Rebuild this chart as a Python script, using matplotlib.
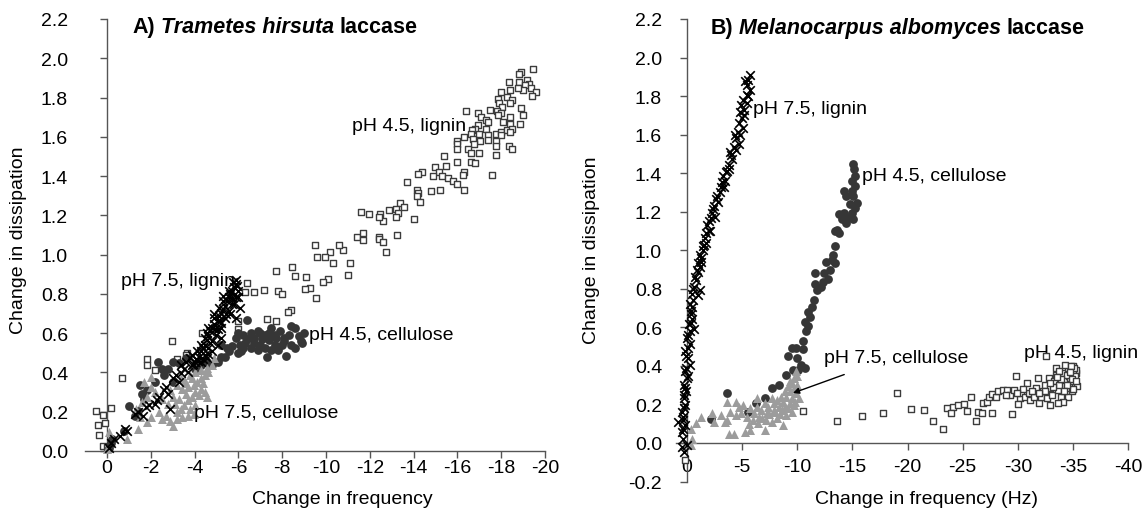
import numpy as np
import matplotlib
matplotlib.use("Agg")
import matplotlib.pyplot as plt

plt.rcParams['font.family'] = ['Liberation Sans', 'DejaVu Sans']

# ---- panel A: Trametes hirsuta laccase (frequency, dissipation) ----
a_lig45 = [
    (-19.44, 1.947), (-18.9, 1.93), (-18.8, 1.92), (-18.35, 1.88), (-18.8, 1.88), (-19.2, 1.89),
    (-19.27, 1.87), (-19.1, 1.865), (-19.36, 1.85), (-19.0, 1.84), (-19.6, 1.83), (-19.4, 1.81),
    (-18.77, 1.85), (-18.4, 1.84), (-18.0, 1.83), (-18.25, 1.805), (-17.85, 1.795), (-18.5, 1.79),
    (-17.9, 1.77), (-18.4, 1.77), (-18.05, 1.75), (-17.5, 1.735), (-18.9, 1.745), (-17.8, 1.73),
    (-18.0, 1.72), (-16.4, 1.73), (-16.95, 1.72), (-17.1, 1.70), (-17.3, 1.685), (-17.85, 1.71),
    (-18.4, 1.70), (-19.0, 1.71), (-18.85, 1.665), (-18.4, 1.665), (-18.1, 1.675), (-17.4, 1.675),
    (-16.95, 1.66), (-16.8, 1.64), (-16.65, 1.635), (-16.6, 1.615), (-17.0, 1.615), (-17.3, 1.64),
    (-17.4, 1.61), (-17.75, 1.615), (-18.0, 1.625), (-18.25, 1.635), (-18.5, 1.64), (-18.4, 1.625),
    (-18.0, 1.61), (-17.75, 1.58), (-17.4, 1.585), (-17.05, 1.58), (-16.7, 1.59), (-16.3, 1.60),
    (-16.0, 1.58), (-16.0, 1.565), (-16.75, 1.565), (-17.75, 1.555), (-18.35, 1.555), (-18.5, 1.54),
    (-16.0, 1.54), (-16.5, 1.54), (-17.0, 1.52), (-16.6, 1.52), (-17.75, 1.505), (-15.4, 1.50),
    (-16.0, 1.47), (-16.6, 1.47), (-16.8, 1.465), (-17.6, 1.405), (-15.5, 1.45), (-15.0, 1.445),
    (-15.15, 1.42), (-14.9, 1.40), (-15.3, 1.40), (-15.55, 1.39), (-15.8, 1.375), (-16.0, 1.36),
    (-16.3, 1.42), (-16.25, 1.405), (-16.3, 1.33), (-15.2, 1.33), (-14.8, 1.325), (-14.4, 1.42),
    (-14.2, 1.41), (-13.7, 1.37), (-14.15, 1.33), (-14.2, 1.315), (-14.15, 1.30), (-14.3, 1.27),
    (-13.4, 1.265), (-13.55, 1.245), (-13.2, 1.23), (-13.3, 1.21), (-12.9, 1.225), (-13.2, 1.19),
    (-12.45, 1.205), (-12.6, 1.17), (-14.0, 1.18), (-11.6, 1.215), (-11.95, 1.205), (-12.4, 1.19),
    (-11.4, 1.09), (-11.7, 1.11), (-11.7, 1.075), (-12.4, 1.09), (-12.4, 1.08), (-12.6, 1.065),
    (-12.75, 1.015), (-13.25, 1.10), (-10.8, 1.025), (-10.6, 1.05), (-10.2, 1.015), (-9.95, 0.99),
    (-9.6, 0.99), (-9.5, 1.05), (-10.3, 0.955), (-11.1, 0.955), (-11.0, 0.895), (-10.1, 0.875),
    (-9.85, 0.86), (-9.55, 0.78), (-9.25, 0.83), (-9.05, 0.825), (-9.1, 0.885), (-8.6, 0.89),
    (-8.43, 0.935), (-7.74, 0.915), (-7.83, 0.815), (-8.0, 0.80), (-7.15, 0.82), (-6.73, 0.81),
    (-6.4, 0.855), (-6.3, 0.81), (-8.42, 0.72), (-8.25, 0.71), (-7.3, 0.67), (-7.74, 0.66),
    (-6.0, 0.66), (-6.0, 0.62), (-4.35, 0.60), (-3.67, 0.50), (-2.95, 0.56), (-1.85, 0.47),
    (-1.85, 0.44), (-2.2, 0.41), (-0.67, 0.37), (-0.2, 0.22), (0.5, 0.205), (0.2, 0.185),
    (0.42, 0.13), (0.08, 0.145), (0.37, 0.08), (0.17, 0.025), (0.0, 0.02), (-3.6, 0.49), (-3.2, 0.47),
]
a_lig75 = [
    (-0.08, 0.017), (-0.17, 0.043), (-0.34, 0.06), (-0.59, 0.077), (-0.93, 0.103), (-0.84, 0.11),
    (-1.26, 0.19), (-1.43, 0.198), (-1.65, 0.18), (-1.77, 0.223), (-1.94, 0.232), (-2.19, 0.24),
    (-2.36, 0.275), (-2.27, 0.258), (-2.6, 0.31), (-2.78, 0.292), (-2.86, 0.215), (-2.69, 0.327),
    (-3.03, 0.37), (-3.16, 0.387), (-3.37, 0.395), (-3.54, 0.42), (-3.28, 0.352), (-3.7, 0.404),
    (-3.87, 0.438), (-3.79, 0.473), (-4.04, 0.455), (-4.21, 0.48), (-4.29, 0.507), (-4.38, 0.524),
    (-4.46, 0.541), (-4.55, 0.567), (-4.63, 0.584), (-4.71, 0.61), (-4.8, 0.627), (-4.88, 0.645),
    (-5.05, 0.662), (-5.13, 0.687), (-5.22, 0.705), (-5.3, 0.722), (-5.39, 0.739), (-5.47, 0.765),
    (-5.56, 0.782), (-5.64, 0.80), (-5.72, 0.816), (-5.81, 0.834), (-5.89, 0.851), (-5.89, 0.871),
    (-4.29, 0.455), (-4.46, 0.49), (-4.63, 0.524), (-4.8, 0.558), (-4.97, 0.593), (-5.05, 0.619),
    (-5.22, 0.653), (-5.39, 0.679), (-5.56, 0.713), (-5.72, 0.748), (-5.89, 0.782), (-5.98, 0.816),
    (-4.12, 0.507), (-4.29, 0.541), (-4.46, 0.576), (-4.63, 0.627), (-4.88, 0.679), (-5.13, 0.73),
    (-5.3, 0.765), (-5.56, 0.816), (-6.06, 0.73), (-5.89, 0.679), (-5.22, 0.576), (-5.05, 0.541),
    (-4.8, 0.507), (-4.55, 0.473), (-3.87, 0.49), (-3.62, 0.455), (-3.37, 0.438), (-5.22, 0.627),
    (-5.64, 0.696), (-5.81, 0.748), (-5.98, 0.782), (-4.4, 0.47), (-4.7, 0.55), (-4.95, 0.62),
    (-5.15, 0.66), (-5.45, 0.70), (-5.7, 0.78), (-5.95, 0.84), (-4.15, 0.46), (-4.55, 0.60),
    (-4.9, 0.70), (-5.3, 0.79), (-5.75, 0.86), (-4.05, 0.47), (-3.95, 0.445), (-4.6, 0.495),
]
a_cel45 = [
    (-6.4, 0.665), (-7.5, 0.627), (-8.42, 0.636), (-8.6, 0.627), (-9.0, 0.60), (-8.84, 0.56),
    (-8.42, 0.54), (-8.08, 0.575), (-7.66, 0.54), (-7.32, 0.48), (-8.16, 0.486), (-7.24, 0.59),
    (-6.9, 0.61), (-6.73, 0.575), (-6.99, 0.54), (-6.57, 0.525), (-6.31, 0.55), (-6.14, 0.507),
    (-5.9, 0.575), (-5.72, 0.533), (-5.56, 0.507), (-5.22, 0.48), (-5.05, 0.455), (-4.8, 0.44),
    (-7.9, 0.61), (-7.66, 0.593), (-7.4, 0.567), (-7.83, 0.516), (-8.6, 0.524), (-8.75, 0.584),
    (-6.9, 0.516), (-7.24, 0.524), (-6.57, 0.60), (-6.23, 0.593), (-6.06, 0.541), (-8.08, 0.558),
    (-7.5, 0.516), (-6.73, 0.55), (-5.98, 0.50), (-5.39, 0.48), (-5.47, 0.524), (-5.22, 0.541),
    (-4.55, 0.455), (-4.3, 0.44), (-4.04, 0.42), (-3.62, 0.473), (-3.28, 0.447), (-3.03, 0.455),
    (-2.78, 0.42), (-2.53, 0.42), (-2.32, 0.455), (-2.6, 0.387), (-3.03, 0.352), (-2.19, 0.352),
    (-1.85, 0.31), (-1.6, 0.29), (-1.68, 0.266), (-1.43, 0.206), (-1.01, 0.229), (-1.26, 0.18),
    (-0.76, 0.103), (-0.17, 0.043), (-0.08, 0.017), (-0.25, 0.06), (-1.52, 0.335),
    (-7.1, 0.57), (-7.7, 0.575), (-8.3, 0.59), (-8.0, 0.54), (-7.0, 0.60), (-6.4, 0.57),
    (-6.0, 0.60), (-8.9, 0.55), (-7.4, 0.60), (-6.2, 0.525),
]
a_cel75 = [
    (0.0, 0.012), (-0.08, 0.095), (-0.93, 0.06), (-1.43, 0.112), (-1.52, 0.172), (-1.85, 0.146),
    (-2.02, 0.172), (-1.35, 0.215), (-1.6, 0.25), (-1.68, 0.352), (-2.02, 0.378), (-2.36, 0.198),
    (-2.53, 0.163), (-2.69, 0.18), (-3.03, 0.129), (-2.86, 0.155), (-3.2, 0.198), (-3.37, 0.215),
    (-3.54, 0.232), (-3.7, 0.258), (-3.87, 0.275), (-3.62, 0.292), (-3.28, 0.266), (-3.45, 0.318),
    (-3.7, 0.327), (-3.96, 0.335), (-4.12, 0.352), (-4.29, 0.37), (-4.46, 0.387), (-4.55, 0.275),
    (-4.46, 0.30), (-4.21, 0.284), (-4.04, 0.232), (-3.79, 0.215), (-3.11, 0.24), (-3.03, 0.275),
    (-2.86, 0.31), (-3.2, 0.335), (-3.54, 0.361), (-3.79, 0.387), (-4.04, 0.404), (-4.29, 0.413),
    (-4.55, 0.421), (-4.8, 0.438), (-4.88, 0.473), (-4.63, 0.404), (-3.87, 0.37), (-3.62, 0.344),
    (-3.37, 0.37), (-2.53, 0.266), (-2.78, 0.24), (-2.19, 0.30), (-1.85, 0.275), (-2.02, 0.327),
    (-3.96, 0.189), (-3.7, 0.18), (-3.45, 0.172), (-3.2, 0.163), (-4.04, 0.30), (-4.29, 0.318),
    (-4.38, 0.344),
]

# ---- panel B: Melanocarpus albomyces laccase ----
b_lig75 = [
    (-5.74, 1.91), (-5.57, 1.885), (-5.41, 1.86), (-5.74, 1.83), (-5.41, 1.807), (-5.08, 1.78),
    (-4.92, 1.754), (-5.15, 1.728), (-5.41, 1.763), (-5.02, 1.684), (-4.75, 1.658), (-5.08, 1.632),
    (-4.59, 1.614), (-4.43, 1.58), (-4.69, 1.553), (-4.26, 1.535), (-3.93, 1.51), (-4.1, 1.474),
    (-3.77, 1.44), (-3.61, 1.413), (-3.28, 1.387), (-3.44, 1.36), (-3.11, 1.326), (-2.95, 1.30),
    (-2.62, 1.264), (-2.46, 1.23), (-2.3, 1.195), (-2.13, 1.168), (-1.8, 1.133), (-1.97, 1.098),
    (-1.64, 1.063), (-1.54, 1.028), (-1.41, 1.002), (-1.15, 0.976), (-1.31, 0.941), (-1.15, 0.915),
    (-0.98, 0.888), (-0.82, 0.845), (-0.66, 0.81), (-1.15, 0.792), (-0.98, 0.766), (-0.56, 0.74),
    (-0.43, 0.705), (-0.33, 0.67), (-0.49, 0.644), (-0.16, 0.617), (-0.66, 0.591), (0.0, 0.547),
    (-0.23, 0.512), (0.16, 0.477), (-0.1, 0.442), (-0.23, 0.407), (0.16, 0.372), (0.0, 0.338),
    (0.23, 0.303), (0.1, 0.268), (0.3, 0.233), (0.16, 0.198), (0.49, 0.163), (0.82, 0.11),
    (0.33, 0.136), (0.16, 0.093), (0.49, 0.058), (0.33, 0.023), (0.49, -0.021), (0.23, -0.047),
    (0.0, -0.012), (-5.25, 1.876), (-4.82, 1.72), (-4.33, 1.597), (-4.03, 1.492), (-3.51, 1.404),
    (-3.18, 1.352), (-2.72, 1.282), (-2.39, 1.212), (-2.0, 1.151), (-1.74, 1.09), (-1.48, 1.02),
    (-1.02, 0.932), (-0.75, 0.862), (-0.49, 0.775), (-0.36, 0.687), (-0.23, 0.582), (-0.1, 0.495),
    (0.07, 0.39), (0.16, 0.285), (0.23, 0.18), (0.39, 0.075), (-5.55, 1.80), (-5.2, 1.70),
    (-4.85, 1.60), (-4.45, 1.52), (-3.85, 1.42), (-3.35, 1.33), (-2.85, 1.25), (-2.5, 1.17),
    (-2.1, 1.10), (-1.7, 1.04), (-1.25, 0.96), (-0.9, 0.90), (-0.55, 0.80), (-0.3, 0.72),
    (-0.4, 0.62), (-0.05, 0.56), (0.1, 0.45), (-0.1, 0.35), (0.3, 0.25), (0.4, 0.12),
]
b_cel45 = [
    (-15.08, 1.448), (-15.18, 1.422), (-15.25, 1.387), (-14.98, 1.36), (-15.25, 1.335), (-14.92, 1.308),
    (-14.26, 1.308), (-14.43, 1.282), (-15.08, 1.282), (-15.41, 1.247), (-14.75, 1.238), (-15.25, 1.221),
    (-14.92, 1.195), (-14.26, 1.195), (-13.77, 1.186), (-14.59, 1.168), (-14.1, 1.16), (-14.43, 1.142),
    (-15.08, 1.16), (-13.61, 1.107), (-13.77, 1.09), (-13.44, 1.098), (-13.44, 1.02), (-13.28, 0.976),
    (-13.11, 0.95), (-13.44, 0.932), (-12.62, 0.941), (-12.95, 0.897), (-12.46, 0.88), (-12.79, 0.853),
    (-12.3, 0.836), (-11.57, 0.88), (-11.64, 0.827), (-11.8, 0.792), (-12.13, 0.81), (-11.48, 0.74),
    (-11.31, 0.705), (-10.98, 0.679), (-11.15, 0.652), (-10.66, 0.626), (-10.98, 0.609), (-10.82, 0.582),
    (-10.49, 0.53), (-9.84, 0.495), (-10.49, 0.486), (-9.51, 0.495), (-10.0, 0.442), (-9.18, 0.451),
    (-10.33, 0.407), (-10.66, 0.39), (-10.07, 0.381), (-9.61, 0.381), (-9.02, 0.355), (-8.36, 0.303),
    (-7.7, 0.285), (-7.05, 0.233), (-6.23, 0.206), (-5.57, 0.163), (-3.61, 0.259), (-2.13, 0.124),
]
b_cel75 = [
    (-9.84, 0.372), (-10.0, 0.346), (-9.67, 0.338), (-9.51, 0.311), (-10.0, 0.303), (-9.67, 0.285),
    (-9.18, 0.294), (-9.34, 0.268), (-9.84, 0.259), (-8.85, 0.268), (-9.02, 0.241), (-9.51, 0.233),
    (-8.52, 0.241), (-8.69, 0.215), (-9.34, 0.206), (-8.2, 0.224), (-7.87, 0.206), (-8.36, 0.189),
    (-8.85, 0.189), (-7.7, 0.233), (-7.38, 0.189), (-7.87, 0.171), (-7.05, 0.206), (-6.72, 0.171),
    (-7.21, 0.154), (-6.39, 0.189), (-6.07, 0.154), (-6.56, 0.136), (-5.74, 0.18), (-5.41, 0.136),
    (-4.92, 0.154), (-5.08, 0.198), (-4.43, 0.145), (-3.93, 0.163), (-3.61, 0.119), (-3.77, 0.049),
    (-4.26, 0.049), (-5.25, 0.058), (-5.67, 0.066), (-7.05, 0.066), (-8.69, 0.093), (-3.61, 0.215),
    (-4.43, 0.215), (-4.75, 0.189), (-6.39, 0.233), (-3.11, 0.145), (-3.44, 0.11), (-2.46, 0.11),
    (-2.3, 0.154), (-1.31, 0.136), (-0.82, 0.101), (-0.33, 0.075), (-0.43, 0.023), (-0.33, -0.012),
    (-8.2, 0.128), (-7.7, 0.11), (-9.02, 0.145), (-9.51, 0.163), (-9.67, 0.198), (-10.16, 0.233),
    (-6.0, 0.12), (-6.8, 0.13), (-7.4, 0.15), (-8.0, 0.16), (-8.6, 0.17), (-9.2, 0.18),
    (-5.6, 0.10), (-6.4, 0.105), (-7.2, 0.12), (-8.4, 0.15), (-9.8, 0.21), (-9.3, 0.32),
]
b_lig45 = [
    (0.16, -0.091), (-10.49, 0.166), (-13.61, 0.114), (-15.84, 0.142), (-17.8, 0.157), (-19.02, 0.259),
    (-20.33, 0.177), (-21.48, 0.171), (-22.3, 0.114), (-23.2, 0.072), (-23.61, 0.18), (-24.1, 0.189),
    (-23.93, 0.154), (-24.59, 0.198), (-25.08, 0.201), (-25.41, 0.166), (-25.74, 0.241), (-26.23, 0.114),
    (-26.39, 0.163), (-26.72, 0.154), (-26.89, 0.206), (-27.21, 0.215), (-27.7, 0.154), (-27.38, 0.236),
    (-27.7, 0.254), (-28.03, 0.241), (-28.2, 0.268), (-28.62, 0.276), (-29.02, 0.276), (-29.51, 0.149),
    (-29.34, 0.25), (-29.67, 0.276), (-29.84, 0.346), (-30.16, 0.233), (-30.0, 0.201), (-30.33, 0.259),
    (-30.66, 0.241), (-30.82, 0.311), (-30.98, 0.259), (-31.15, 0.224), (-31.48, 0.241), (-31.64, 0.285),
    (-31.8, 0.338), (-31.97, 0.206), (-32.13, 0.241), (-32.3, 0.268), (-32.46, 0.303), (-32.62, 0.233),
    (-32.79, 0.338), (-32.95, 0.285), (-33.11, 0.25), (-33.28, 0.32), (-33.44, 0.355), (-33.61, 0.276),
    (-33.77, 0.303), (-33.93, 0.241), (-34.1, 0.364), (-34.26, 0.329), (-34.43, 0.285), (-34.59, 0.39),
    (-34.66, 0.346), (-34.75, 0.311), (-34.85, 0.372), (-34.92, 0.268), (-34.98, 0.399), (-35.08, 0.338),
    (-35.18, 0.303), (-35.25, 0.364), (-35.31, 0.381), (-35.41, 0.294), (-34.59, 0.241), (-34.1, 0.215),
    (-33.61, 0.206), (-32.95, 0.198), (-34.26, 0.407), (-33.44, 0.39), (-33.77, 0.372), (-34.75, 0.338),
    (-34.43, 0.355), (-34.98, 0.32), (-32.6, 0.45), (-35.0, 0.36), (-35.1, 0.39), (-34.8, 0.40),
    (-35.2, 0.35), (-34.9, 0.33), (-35.3, 0.32), (-34.7, 0.37), (-35.05, 0.28), (-34.5, 0.30),
    (-34.2, 0.27), (-33.9, 0.33), (-33.6, 0.34), (-33.2, 0.29), (-32.9, 0.31), (-32.5, 0.27),
    (-31.9, 0.26), (-31.3, 0.27), (-30.5, 0.28), (-29.9, 0.26), (-28.9, 0.25),
]

a_xticks = np.arange(0, -21, -2)
a_yticks = np.round(np.arange(0, 2.21, 0.2), 1)
b_xticks = np.arange(0, -41, -5)
b_yticks = np.round(np.arange(-0.2, 2.21, 0.2), 1)

SQ = dict(marker='s', s=24, facecolors='white', edgecolors='#3c3c3c', linewidths=1.0)
CI = dict(marker='o', s=40, color='#363636', linewidths=0)
TR = dict(marker='^', s=42, color='#9c9c9c', linewidths=0)
XX = dict(marker='x', s=38, color='black', linewidths=1.2)
FS = 14
FT = 15.5


def draw(ax, lig45, cel45, cel75, lig75):
    for data, st in ((lig45, SQ), (cel45, CI), (cel75, TR), (lig75, XX)):
        d = np.array(data)
        ax.scatter(d[:, 0], d[:, 1], zorder=3, clip_on=False, **st)


def style(ax, xticks, yticks, ypad, xpad):
    for s in ('top', 'right'):
        ax.spines[s].set_visible(False)
    ax.spines['left'].set_position(('data', 0))
    ax.spines['bottom'].set_position(('data', 0))
    for s in ('left', 'bottom'):
        ax.spines[s].set_color('#555555')
        ax.spines[s].set_linewidth(1.0)
    ax.set_xticks(xticks)
    ax.set_xticklabels([f'{v:g}' for v in xticks])
    ax.set_yticks(yticks)
    ax.set_yticklabels([f'{v:.1f}' for v in yticks])
    ax.tick_params(axis='both', direction='out', length=5, width=1, color='#555555',
                   labelsize=FS)
    ax.tick_params(axis='y', pad=ypad)
    ax.tick_params(axis='x', pad=xpad)
    ax.set_facecolor('none')


def title(ax, x, y, parts):
    # bold heading with an italic species name, pieces chained left to right
    prev = ax.text(x, y, parts[0], fontsize=FT, fontweight='bold', va='center', ha='left')
    for txt, st in zip(parts[1:], ('italic', 'normal')):
        prev = ax.annotate(txt, xy=(1, 0), xycoords=prev, xytext=(4, 0),
                           textcoords='offset points', fontsize=FT, fontweight='bold',
                           fontstyle=st, va='bottom', ha='left')


fig = plt.figure(figsize=(11.48, 5.10), dpi=100)
axA = fig.add_axes([85 / 1148, 1 - 452 / 510, 460 / 1148, 432 / 510])
axB = fig.add_axes([676 / 1148, 1 - 482.5 / 510, 452 / 1148, 462.5 / 510])

axA.set_xlim(1, -20)
axA.set_ylim(0, 2.2)
axB.set_xlim(1, -40)
axB.set_ylim(-0.2, 2.2)

draw(axA, a_lig45, a_cel45, a_cel75, a_lig75)
draw(axB, b_lig45, b_cel45, b_cel75, b_lig75)

style(axA, a_xticks, a_yticks, 23, 1)
style(axB, b_xticks, b_yticks, 13, 6)

axA.set_xlabel('Change in frequency', fontsize=FS)
axA.xaxis.set_label_coords(0.56, -0.09)
axA.set_ylabel('Change in dissipation', fontsize=FS)
axA.yaxis.set_label_coords(-0.126, 0.49)
axB.set_xlabel('Change in frequency (Hz)', fontsize=FS)
axB.xaxis.set_label_coords(0.555, -0.018)
axB.set_ylabel('Change in dissipation', fontsize=FS)
axB.yaxis.set_label_coords(-0.168, 0.503)

title(axA, -1.18, 2.16, ['A)', 'Trametes hirsuta', 'laccase'])
title(axB, -2.13, 2.158, ['B)', 'Melanocarpus albomyces', 'laccase'])

axA.text(-16.4, 1.66, 'pH 4.5, lignin', fontsize=FS, ha='right', va='center', zorder=4)
axA.text(-0.64, 0.868, 'pH 7.5, lignin', fontsize=FS, ha='left', va='center', zorder=2)
axA.text(-9.23, 0.593, 'pH 4.5, cellulose', fontsize=FS, ha='left', va='center', zorder=4)
axA.text(-3.96, 0.198, 'pH 7.5, cellulose', fontsize=FS, ha='left', va='center', zorder=4)

axB.text(-5.97, 1.737, 'pH 7.5, lignin', fontsize=FS, ha='left', va='center', zorder=4)
axB.text(-15.9, 1.387, 'pH 4.5, cellulose', fontsize=FS, ha='left', va='center', zorder=4)
axB.text(-12.39, 0.442, 'pH 7.5, cellulose', fontsize=FS, ha='left', va='center', zorder=4)
axB.text(-30.56, 0.469, 'pH 4.5, lignin', fontsize=FS, ha='left', va='center', zorder=2)
axB.annotate('', xy=(-9.61, 0.259), xytext=(-14.26, 0.355),
             arrowprops=dict(arrowstyle='-|>', color='black', lw=1.0, mutation_scale=9,
                             shrinkA=0, shrinkB=0), zorder=5)

fig.savefig('out.png', dpi=100)
